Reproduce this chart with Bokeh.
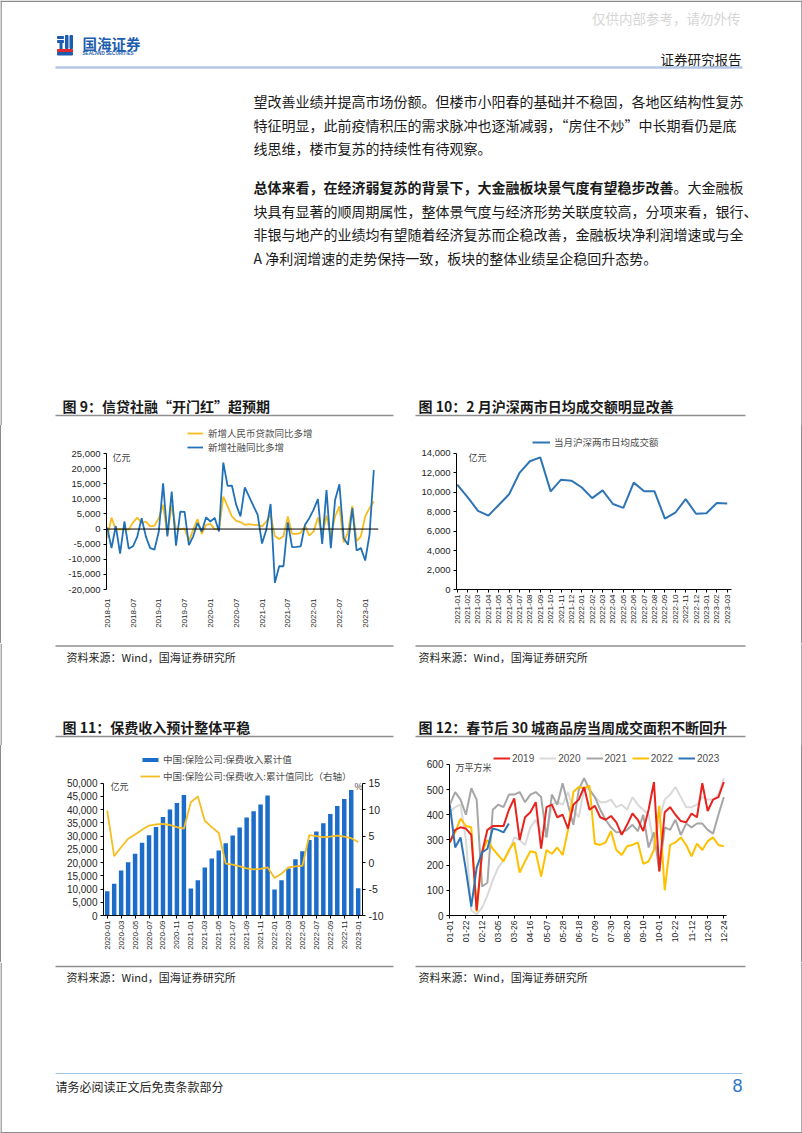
import math
from bokeh.plotting import figure
from bokeh.models import (Range1d, LinearAxis, FixedTicker, NumeralTickFormatter,
                          Span, Legend, LegendItem, Label, Spacer)
from bokeh.layouts import column, row
from bokeh.core.properties import value
from bokeh.embed import file_html
from bokeh.resources import INLINE

CJK = "Noto Sans CJK SC"
SANS = "Liberation Sans"

# ======================= DATA =======================
# 图9 信贷社融（亿元）
f9_tick_labels = ["2018-01", "2018-07", "2019-01", "2019-07", "2020-01", "2020-07",
                  "2021-01", "2021-07", "2022-01", "2022-07", "2023-01"]
f9_yticks = [-20000, -15000, -10000, -5000, 0, 5000, 10000, 15000, 20000, 25000]
f9_names = ["新增人民币贷款同比多增", "新增社融同比多增"]
f9_loan_yoy = [-3000, 3800, -200, 0, -200, -200, 2200, 3800, 2000, 2500,
               900, 1100, 3600, 8000, -1900, 8000, 0, 0, 200, -4000,
               -200, 3300, -1600, 1400, 1700, 0, -200, 10700, 7500, 4200,
               2700, 2300, 1400, 1600, 1400, 1400, 900, 2500, 4700, -2400,
               -3300, -2400, 4200, -1600, -1600, -1300, 1100, -2200, -800, 3800,
               -1900, 4500, -2400, 4200, 7500, -4400, -1100, 7700, -4000, -2400,
               4200, 6900, 9100]
f9_tsf_yoy = [500, -6300, 1000, -8100, 2500, -6500, -5700, -2500, 3600, -2500,
              -6300, -6800, -800, 15100, -2400, 12400, -5500, 5800, 5700, -5300,
              -2400, 2000, -800, 3900, 2500, 3700, -800, 22000, 14300, 14400,
              8000, 4200, 13800, 10700, 7700, 4700, -4800, -200, 8300, -17800,
              -12300, -12300, 2200, -6000, -5900, -5700, 1400, 3600, 6400, 9900,
              -4900, 12900, -6300, 9600, 14800, -3000, -5200, 6900, -7100, -6300,
              -10400, -1900, 19500]

# 图10 沪深两市日均成交额（亿元）
f10_months = ["2021-01", "2021-02", "2021-03", "2021-04", "2021-05", "2021-06", "2021-07",
              "2021-08", "2021-09", "2021-10", "2021-11", "2021-12", "2022-01", "2022-02",
              "2022-03", "2022-04", "2022-05", "2022-06", "2022-07", "2022-08", "2022-09",
              "2022-10", "2022-11", "2022-12", "2023-01", "2023-02", "2023-03"]
f10_yticks = [0, 2000, 4000, 6000, 8000, 10000, 12000, 14000]
f10_name = "当月沪深两市日均成交额"
f10_turnover = [10800, 9500, 8100, 7600, 8700, 9800, 12000, 13200, 13600, 10100,
                11300, 11200, 10500, 9400, 10200, 8800, 8400, 11000, 10100, 10100,
                7300, 7900, 9300, 7800, 7850, 8900, 8850]

# 图11 保费收入
f11_tick_labels = ["2020-01", "2020-03", "2020-05", "2020-07", "2020-09", "2020-11",
                   "2021-01", "2021-03", "2021-05", "2021-07", "2021-09", "2021-11",
                   "2022-01", "2022-03", "2022-05", "2022-07", "2022-09", "2022-11", "2023-01"]
f11_yticks = [0, 5000, 10000, 15000, 20000, 25000, 30000, 35000, 40000, 45000, 50000]
f11_rticks = [-10, -5, 0, 5, 10, 15]
f11_names = ["中国:保险公司:保费收入累计值", "中国:保险公司:保费收入:累计值同比（右轴）"]
f11_premium = [9200, 12000, 17000, 20150, 23300, 27450, 30340, 33490, 37270, 40040, 42560, 45580,
               10200, 13350, 18130, 21530, 24550, 27320, 30220, 33240, 37010, 39410, 41920, 45320,
               9820, 13350, 17750, 21280, 24300, 28580, 31730, 34870, 38400, 41420, 44060, 47460,
               10320]
f11_yoy = [9.8, 1.2, 2.9, 4.5, 5.3, 6.2, 7.0, 7.2, 7.3, 7.1, 6.7, 6.4,
           11.4, 12.5, 7.9, 6.7, 5.6, -0.2, -0.4, -0.7, -1.1, -1.3, -1.2, -0.9,
           -2.9, -2.1, -0.9, -0.7, -0.6, 5.2, 5.0, 4.8, 4.9, 5.1, 4.9, 4.6,
           3.9]

# 图12 30城商品房当周成交面积（万平方米）
f12_tick_labels = ["01-01", "01-22", "02-12", "03-05", "03-26", "04-16", "05-07", "05-28", "06-18",
                   "07-09", "07-30", "08-20", "09-10", "10-01", "10-22", "11-12", "12-03", "12-24"]
f12_yticks = [0, 100, 200, 300, 400, 500, 600]
f12_years = ["2019", "2020", "2021", "2022", "2023"]
f12_2019 = [290, 340, 350, 345, 320, 20, 250, 340, 355, 355,
            355, 420, 465, 300, 390, 410, 450, 265, 430, 440,
            390, 400, 345, 440, 460, 510, 420, 435, 390, 380,
            395, 370, 320, 360, 405, 380, 335, 420, 530, 175,
            410, 430, 400, 375, 370, 405, 390, 525, 415, 460,
            470, 530]
f12_2020 = [410, 430, 440, 300, 20, 5, 30, 80, 140, 190,
            220, 250, 310, 300, 280, 350, 380, 330, 310, 440,
            450, 440, 490, 420, 390, 500, 500, 470, 450, 450,
            460, 430, 440, 420, 470, 440, 420, 400, 280, 380,
            460, 480, 510, 470, 430, 430, 440, 470, 460, 460,
            480, 545]
f12_2021 = [440, 490, 460, 400, 505, 460, 115, 130, 420, 440,
            430, 480, 480, 490, 450, 480, 490, 470, 310, 480,
            440, 525, 440, 360, 500, 545, 500, 470, 420, 380,
            350, 330, 330, 340, 360, 335, 400, 270, 330, 175,
            350, 340, 380, 320, 365, 350, 365, 365, 340, 325,
            400, 470]
f12_2022 = [290, 330, 385, 355, 350, 15, 250, 300, 265, 240,
            215, 260, 290, 170, 215, 255, 250, 155, 260, 245,
            270, 240, 340, 490, 510, 505, 515, 285, 280, 290,
            335, 260, 240, 275, 280, 290, 205, 215, 260, 435,
            100, 280, 290, 310, 280, 235, 285, 260, 295, 310,
            280, 275]
f12_2023 = [440, 270, 310, 180, 35, 190, 250, 265, 345, 340, 330, 365]

# 页面文字
watermark = "仅供内部参考，请勿外传"
report_tag = "证券研究报告"
para1 = ["望改善业绩并提高市场份额。但楼市小阳春的基础并不稳固，各地区结构性复苏",
         "特征明显，此前疫情积压的需求脉冲也逐渐减弱，“房住不炒”中长期看仍是底",
         "线思维，楼市复苏的持续性有待观察。"]
para2_bold = "总体来看，在经济弱复苏的背景下，大金融板块景气度有望稳步改善"
para2_tail = "。大金融板"
para2_rest = ["块具有显著的顺周期属性，整体景气度与经济形势关联度较高，分项来看，银行、",
              "非银与地产的业绩均有望随着经济复苏而企稳改善，金融板块净利润增速或与全",
              "A 净利润增速的走势保持一致，板块的整体业绩呈企稳回升态势。"]
titles = ["图 9：信贷社融“开门红”超预期", "图 10：2 月沪深两市日均成交额明显改善",
          "图 11：保费收入预计整体平稳", "图 12：春节后 30 城商品房当周成交面积不断回升"]
source = "资料来源：Wind，国海证券研究所"
footer = "请务必阅读正文后免责条款部分"
page_no = "8"

# ======================= STYLE =======================
BORDER = "#8C8C8C"
RULE = "#8F8F8F"
TXT = "#1A1A1A"
YEL = "#F5BD1F"
BLUE = "#2171B9"
BAR = "#1C6CC9"
LOGO = "#1D5DB0"


def lin(pa, va, pb, vb):
    k = (vb - va) / (pb - pa)
    return lambda px: va + (px - pa) * k


def chart_fig(w, h, bl, br, bb, xr, yr):
    p = figure(width=w, height=h, x_range=xr, y_range=yr, output_backend="svg",
               toolbar_location=None, min_border_left=bl, min_border_right=br,
               min_border_top=0, min_border_bottom=bb,
               x_axis_location=None, y_axis_location=None)
    p.grid.visible = False
    p.outline_line_color = None
    p.background_fill_color = "white"
    p.border_fill_color = "white"
    return p


def style_axis(ax, size, standoff=3, ticks=True, line=True):
    ax.axis_line_color = "black" if line else None
    ax.axis_line_width = 1
    ax.major_tick_line_color = "black" if ticks else None
    ax.major_tick_out = 3
    ax.major_tick_in = 0
    ax.minor_tick_line_color = None
    ax.major_label_text_font = SANS
    ax.major_label_text_font_size = size
    ax.major_label_text_color = "#262626"
    ax.major_label_standoff = standoff


def legend(items, loc, gw, gh, font, size, standoff, orientation="vertical", spacing=0):
    lg = Legend(items=items, location=loc, orientation=orientation,
                glyph_width=gw, glyph_height=gh, label_height=gh, label_width=10,
                label_standoff=standoff, spacing=spacing, padding=0, margin=0,
                border_line_color=None, background_fill_alpha=0,
                label_text_font=font, label_text_font_size=size,
                label_text_color="#4D4D4D")
    return lg


def unit_label(p, x, y, text, y_range_name="default"):
    p.add_layout(Label(x=x, y=y, text=text, text_font=CJK, text_font_size="9px",
                       text_color="#404040", text_baseline="middle",
                       y_range_name=y_range_name))


def xaxis_idx(p, ticks, labels, size, standoff, ticks_on=True, line=True):
    ax = LinearAxis(ticker=FixedTicker(ticks=ticks),
                    major_label_overrides={t: s for t, s in zip(ticks, labels)},
                    major_label_orientation=math.pi / 2)
    style_axis(ax, size, standoff, ticks_on, line)
    p.add_layout(ax, "below")
    return ax


def yaxis(p, ticks, bounds, size, side="left", fmt="0,0", y_range_name="default"):
    ax = LinearAxis(ticker=FixedTicker(ticks=ticks), bounds=bounds,
                    formatter=NumeralTickFormatter(format=fmt), y_range_name=y_range_name)
    style_axis(ax, size, 3)
    p.add_layout(ax, side)
    return ax


# ======================= 图9 =======================
mx9 = lin(106.7, 0, 373.3, len(f9_tsf_yoy) - 1)
my9 = lin(589, f9_yticks[0], 453, f9_yticks[-1])
p9 = chart_fig(400, 218, 105, 23, 54, Range1d(mx9(106), mx9(378)), Range1d(my9(589), my9(425)))
x9 = list(range(len(f9_tsf_yoy)))
p9.add_layout(Span(location=0, dimension="width", line_color="black", line_width=1))
r9a = p9.line(x9, f9_loan_yoy, line_color=YEL, line_width=1.8)
r9b = p9.line(x9, f9_tsf_yoy, line_color=BLUE, line_width=1.8)
yaxis(p9, f9_yticks, (f9_yticks[0], f9_yticks[-1]), "9.5px")
xaxis_idx(p9, x9[::6], f9_tick_labels, "8px", 6, ticks_on=False, line=False)
p9.add_layout(legend([LegendItem(label=f9_names[0], renderers=[r9a]),
                      LegendItem(label=f9_names[1], renderers=[r9b])],
                     (81, 135), 16, 12, CJK, "9.5px", 5))
unit_label(p9, mx9(112), my9(457), "亿元")

# ======================= 图10 =======================
mx10 = lin(456.7, 0, 726.7, len(f10_turnover) - 1)
my10 = lin(591, 0, 453.3, f10_yticks[-1])
p10 = chart_fig(400, 218, 55, 70, 52, Range1d(mx10(456), mx10(731)), Range1d(my10(591), my10(425)))
x10 = list(range(len(f10_turnover)))
r10 = p10.line(x10, f10_turnover, line_color="#2E75B6", line_width=2)
yaxis(p10, f10_yticks, (0, f10_yticks[-1]), "9.5px")
xaxis_idx(p10, x10, f10_months, "8px", 2)
p10.add_layout(legend([LegendItem(label=f10_name, renderers=[r10])],
                      (76, 140), 18, 12, CJK, "9.5px", 4))
unit_label(p10, mx10(468), my10(457), "亿元")

# ======================= 图11 =======================
mx11 = lin(106.7, 0, 357.7, len(f11_premium) - 1)
my11 = lin(915, 0, 782.7, f11_yticks[-1])
myr11 = lin(915, f11_rticks[0], 782.7, f11_rticks[-1])
p11 = chart_fig(400, 217, 102, 39, 47, Range1d(mx11(103), mx11(362)), Range1d(my11(915), my11(745)))
p11.extra_y_ranges = {"r": Range1d(myr11(915), myr11(745))}
x11 = list(range(len(f11_premium)))
r11a = p11.vbar(x=x11, top=f11_premium, bottom=0, width=0.64, fill_color=BAR, line_color=None)
r11b = p11.line(x11, f11_yoy, line_color=YEL, line_width=1.8, y_range_name="r")
yaxis(p11, f11_yticks, (0, f11_yticks[-1]), "10px")
yaxis(p11, f11_rticks, (f11_rticks[0], f11_rticks[-1]), "10.5px", side="right", fmt="0", y_range_name="r")
xaxis_idx(p11, x11[::2], f11_tick_labels, "8px", 2)
p11.add_layout(legend([LegendItem(label=f11_names[0], renderers=[r11a])],
                      (37, 149), 20, 5, CJK, "9.5px", 3))
p11.add_layout(legend([LegendItem(label=f11_names[1], renderers=[r11b])],
                      (37, 132), 20, 12, CJK, "9.5px", 3))
unit_label(p11, mx11(110), my11(786), "亿元")
unit_label(p11, mx11(354), myr11(786), "%", y_range_name="r")

# ======================= 图12 =======================
mx12 = lin(449.3, 0, 723.3, len(f12_2019) - 1)
my12 = lin(919, 0, 764.3, f12_yticks[-1])
p12 = chart_fig(400, 217, 48, 75, 43, Range1d(mx12(449), mx12(726)), Range1d(my12(919), my12(745)))
x12 = list(range(len(f12_2019)))
r20 = p12.line(x12, f12_2020, line_color="#D9D9D9", line_width=2)
r21 = p12.line(x12, f12_2021, line_color="#A6A6A6", line_width=2)
r22 = p12.line(x12, f12_2022, line_color="#FFC000", line_width=2)
r19 = p12.line(x12, f12_2019, line_color="#E8231D", line_width=2)
r23 = p12.line(list(range(len(f12_2023))), f12_2023, line_color="#2E75B6", line_width=2)
yaxis(p12, f12_yticks, (0, f12_yticks[-1]), "10px")
xaxis_idx(p12, x12[::3], f12_tick_labels, "8.5px", 2)
p12.add_layout(legend([LegendItem(label=n, renderers=[r]) for n, r in
                       zip(f12_years, [r19, r20, r21, r22, r23])],
                      (44, 151), 17, 12, SANS, "10px", 2, orientation="horizontal", spacing=5))
unit_label(p12, mx12(455), my12(768), "万平方米")


# ======================= 页面文字 =======================
def text_fig(y0, y1, top=False, bottom=False):
    p = figure(width=802, height=y1 - y0, x_range=Range1d(0, 802), y_range=Range1d(y1, y0),
               output_backend="svg", toolbar_location=None, min_border=0,
               x_axis_location=None, y_axis_location=None)
    p.grid.visible = False
    p.outline_line_color = None
    p.background_fill_color = "white"
    p.border_fill_color = "white"
    xs0, ys0, xs1, ys1 = [0.5, 801.5], [y0, y0], [0.5, 801.5], [y1, y1]
    if top:
        xs0.append(0); ys0.append(y0 + 0.75); xs1.append(802); ys1.append(y0 + 0.75)
    if bottom:
        xs0.append(0); ys0.append(y1 - 0.75); xs1.append(802); ys1.append(y1 - 0.75)
    p.segment(x0=xs0, y0=ys0, x1=xs1, y1=ys1, line_color=BORDER, line_width=1.5)
    return p


def txt(p, x, y, s, size, color=TXT, bold=False, font=CJK, align="left"):
    p.text(x=[x], y=[y], text=[s], text_font=value(font), text_font_size=size,
           text_color=color, text_baseline="middle", text_align=align,
           text_font_style="bold" if bold else "normal")


def rule(p, x0, x1, y, color=RULE, w=1.5):
    p.segment(x0=[x0], y0=[y], x1=[x1], y1=[y], line_color=color, line_width=w)


top = text_fig(0, 425, top=True)
txt(top, 740, 17, watermark, "13.5px", color="#D6D6D6", align="right")
# logo
top.quad(left=[57, 57, 59.5, 65, 69.5], right=[63, 63, 61.5, 67.5, 72],
         top=[36, 40, 42, 35, 35], bottom=[38, 42, 49, 48, 48], color=LOGO)
top.quad(left=[57], right=[72], top=[49], bottom=[51.5], color="#E0282E")
top.quad(left=[57], right=[72], top=[52], bottom=[54.5], color=LOGO)
txt(top, 82, 43, "国海证券", "14.5px", color=LOGO, bold=True)
txt(top, 82, 53.3, "SEALAND SECURITIES", "4.6px", color=LOGO, bold=True, font=SANS)
txt(top, 741, 58, report_tag, "13.5px", align="right")
rule(top, 55, 742, 67, color="#B4C7E7", w=2.5)
for s, y in zip(para1, [100, 124, 147]):
    txt(top, 253, y, s, "14px")
txt(top, 253, 186, para2_bold, "14px", bold=True)
txt(top, 253 + 14 * len(para2_bold), 186, para2_tail, "14px")
for s, y in zip(para2_rest, [210, 233, 257]):
    txt(top, 253, y, s, "14px")
txt(top, 62, 405, titles[0], "14px", bold=True)
txt(top, 418, 405, titles[1], "14px", bold=True)
rule(top, 55, 393, 415)
rule(top, 415, 745, 415)

mid = text_fig(643, 745)
rule(mid, 55, 393, 645.5)
rule(mid, 415, 745, 645.5)
txt(mid, 66, 656, source, "11px", color="#262626")
txt(mid, 418, 656, source, "11px", color="#262626")
txt(mid, 62, 726, titles[2], "14px", bold=True)
txt(mid, 418, 726, titles[3], "14px", bold=True)
rule(mid, 55, 393, 736)
rule(mid, 415, 745, 736)

bot = text_fig(962, 1133, bottom=True)
rule(bot, 55, 393, 966)
rule(bot, 415, 745, 966)
txt(bot, 66, 976, source, "11px", color="#262626")
txt(bot, 418, 976, source, "11px", color="#262626")
rule(bot, 55, 742, 1073, color="#9DC3E6", w=1)
txt(bot, 55, 1086, footer, "12px", color="#262626")
txt(bot, 742, 1085, page_no, "18px", color="#2E75C8", font=SANS, align="right")


def side(h):
    return Spacer(width=1, height=h, styles={"background-color": BORDER})


page = column(top,
              row(side(218), p9, p10, side(218)),
              mid,
              row(side(217), p11, p12, side(217)),
              bot)

open("out.html", "w").write(file_html(page, INLINE))
